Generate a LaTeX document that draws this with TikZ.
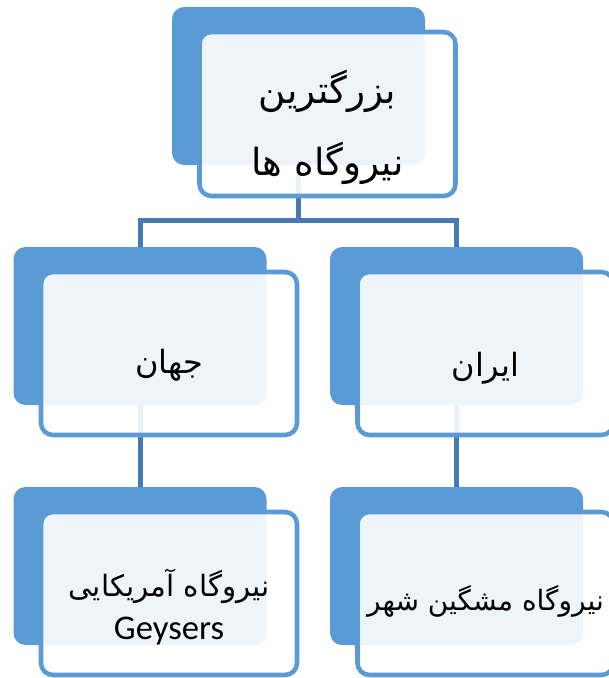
\documentclass[tikz,border=0pt]{standalone}
\usepackage{fontspec}
\setmainfont{Carlito}
\newfontfamily\farsi[Script=Arabic]{DejaVu Sans}
\TeXXeTstate=1
\definecolor{boxblue}{RGB}{91,155,213}
\definecolor{linkblue}{RGB}{70,122,176}

\begin{document}
\begin{tikzpicture}[
                            x=0.75pt,
                            y=-0.75pt,
                            back/.style={fill=boxblue, rounded corners=9pt,
                                minimum width=189.75pt, minimum height=118.5pt,
                                inner sep=0pt, outer sep=0pt},
                            front/.style={draw=boxblue, line width=3.4pt,
                                fill=white, fill opacity=0.9, text opacity=1,
                                rounded corners=9pt,
                                minimum width=192pt, minimum height=122.25pt,
                                inner sep=0pt, outer sep=0pt},
                            txt/.style={text=black, align=center, font=\fontsize{24pt}{30pt}\selectfont},
                            link/.style={draw=linkblue, line width=3.75pt}
                        ]
                        \useasboundingbox (0,0) rectangle (608,678);

                        % back boxes
                        \node[back] (A) at (298.5,86)  {};
                        \node[back] (B) at (140,326)   {};
                        \node[back] (C) at (456.5,326) {};
                        \node[back] (D) at (140,566)   {};
                        \node[back] (E) at (456.5,566) {};

                        % links
                        \path[link]
                        (A.south) -- ++(0,55) -| (B.north)
                        (A.south) -- ++(0,55) -| (C.north)
                        (B.south) -- (D.north)
                        (C.south) -- (E.north)
                        ;

                        % front boxes
                        \node[front, minimum height=123pt] (Af) at ([shift={(29,28)}]A) {};
                        \node[front] (Bf) at ([shift={(29,27.5)}]B) {};
                        \node[front] (Cf) at ([shift={(29,27.5)}]C) {};
                        \node[front] (Df) at ([shift={(29,27.5)}]D) {};
                        \node[front] (Ef) at ([shift={(29,27.5)}]E) {};

                        % texts
                        \node[txt, font=\fontsize{28pt}{54pt}\selectfont] (At) at ([yshift=-10pt]Af)
                            {\farsi\beginR بزرگترین\endR\\\farsi\beginR نیروگاه ها\endR};
                        \node[txt] (Bt) at ([yshift=-9pt]Bf) {\farsi\beginR جهان\endR};
                        \node[txt] (Ct) at ([yshift=-11pt]Cf) {\farsi\beginR ایران\endR};
                        \node[txt, font=\fontsize{26pt}{32pt}\selectfont] (Dt) at ([yshift=-10pt]Df)
                            {\farsi\fontsize{22pt}{32pt}\selectfont\beginR نیروگاه آمریکایی\endR\\Geysers};
                        \node[txt, font=\fontsize{21pt}{30pt}\selectfont] (Et) at ([yshift=-6pt]Ef) {\farsi\beginR نیروگاه مشگین شهر\endR};
                    \end{tikzpicture}
\end{document}
